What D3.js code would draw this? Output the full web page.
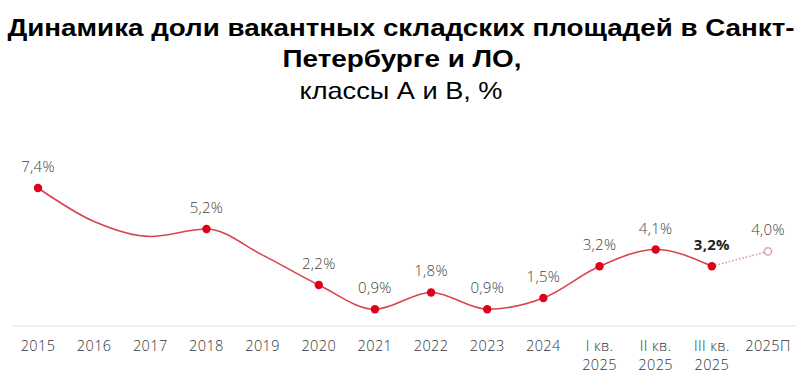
<!DOCTYPE html>
<html lang="ru">
<head>
    <meta charset="UTF-8">
    <title>Динамика доли вакантных складских площадей</title>
    <script src="https://cdn.jsdelivr.net/npm/d3@7"></script>
    <style>
        body { margin: 0; background: #fff; }
        .tick-label { font-family: "Open Sans", sans-serif; font-size: 14.5px; font-weight: 300; fill: #333; letter-spacing: 0.4px; }
        .val-label { font-family: "Open Sans", sans-serif; font-size: 15px; font-weight: 300; fill: #444; letter-spacing: 0.3px; }
    </style>
</head>
<body>
    <div id="chart"></div>
    <script>
        // categories and values (markers only where showMarker is true, the curve still passes through all)
        var categories = ["2015", "2016", "2017", "2018", "2019", "2020", "2021", "2022", "2023", "2024",
            "I кв.\n2025", "II кв.\n2025", "III кв.\n2025", "2025П"];
        var values = [7.4, 5.6, 4.8, 5.2, 3.8, 2.2, 0.9, 1.8, 0.9, 1.5, 3.2, 4.1, 3.2, 4.0];
        var showMarker = [true, false, false, true, false, true, true, true, true, true, true, true, true, true];
        var labels = ["7,4%", "", "", "5,2%", "", "2,2%", "0,9%", "1,8%", "0,9%", "1,5%", "3,2%", "4,1%", "3,2%", "4,0%"];
        var forecastIndex = 13;   // 2025П is a forecast
        var boldIndex = 12;       // latest actual value

        var width = 800, height = 373;

        var svg = d3.select("#chart")
            .append("svg")
            .attr("width", width)
            .attr("height", height);

        // title
        var title = svg.append("g").attr("font-family", "'Liberation Sans Narrow', 'Liberation Sans', Arial, sans-serif");
        title.append("text")
            .attr("x", 401).attr("y", 36)
            .attr("text-anchor", "middle")
            .attr("font-weight", "bold")
            .attr("font-size", 24)
            .attr("textLength", 787)
            .attr("lengthAdjust", "spacingAndGlyphs")
            .text("Динамика доли вакантных складских площадей в Санкт-");
        title.append("text")
            .attr("x", 402).attr("y", 67)
            .attr("text-anchor", "middle")
            .attr("font-weight", "bold")
            .attr("font-size", 24)
            .attr("textLength", 239)
            .attr("lengthAdjust", "spacingAndGlyphs")
            .text("Петербурге и ЛО,");
        title.append("text")
            .attr("x", 401).attr("y", 99)
            .attr("text-anchor", "middle")
            .attr("font-size", 24)
            .attr("textLength", 203)
            .attr("lengthAdjust", "spacingAndGlyphs")
            .text("классы А и В, %");

        var x = d3.scalePoint()
            .domain(categories)
            .range([38, 768]);

        var y = d3.scaleLinear()
            .domain([0, 7.4])
            .range([326, 188]);

        // baseline
        svg.append("line")
            .attr("x1", 12).attr("x2", 797)
            .attr("y1", y(0)).attr("y2", y(0))
            .attr("stroke", "#e3e3e3")
            .attr("stroke-width", 1.2);

        // x labels, one text per line
        categories.forEach(function (c) {
            c.split("\n").forEach(function (part, i) {
                svg.append("text")
                    .attr("class", "tick-label")
                    .attr("text-anchor", "middle")
                    .attr("x", x(c))
                    .attr("y", 351 + i * 19)
                    .text(part);
            });
        });

        var pts = categories.map(function (c, i) { return { cat: c, value: values[i], i: i }; });

        var line = d3.line()
            .x(function (d) { return x(d.cat); })
            .y(function (d) { return y(d.value); })
            .curve(d3.curveMonotoneX);

        svg.append("path")
            .attr("d", line(pts.slice(0, forecastIndex)))
            .attr("fill", "none")
            .attr("stroke", "#d8434f")
            .attr("stroke-width", 1.6);

        svg.append("path")
            .attr("d", line(pts.slice(forecastIndex - 1)))
            .attr("fill", "none")
            .attr("stroke", "#d98a92")
            .attr("stroke-width", 1.4)
            .attr("stroke-dasharray", "1.5,2");

        var marked = pts.filter(function (d) { return showMarker[d.i]; });

        svg.selectAll(".dot")
            .data(marked)
            .enter()
            .append("circle")
            .attr("class", "dot")
            .attr("cx", function (d) { return x(d.cat); })
            .attr("cy", function (d) { return y(d.value); })
            .attr("r", function (d) { return d.i === forecastIndex ? 3.6 : 4.2; })
            .attr("fill", function (d) { return d.i === forecastIndex ? "#fff" : "#e1001a"; })
            .attr("stroke", function (d) { return d.i === forecastIndex ? "#d9a3a8" : "none"; })
            .attr("stroke-width", 1.4);

        svg.selectAll(".val-label")
            .data(marked)
            .enter()
            .append("text")
            .attr("class", "val-label")
            .attr("text-anchor", "middle")
            .attr("x", function (d) { return x(d.cat); })
            .attr("y", function (d) { return y(d.value) - 16; })
            .style("font-weight", function (d) { return d.i === boldIndex ? "bold" : null; })
            .style("fill", function (d) { return d.i === boldIndex ? "#222" : null; })
            .text(function (d) { return labels[d.i]; });
    </script>
</body>
</html>
